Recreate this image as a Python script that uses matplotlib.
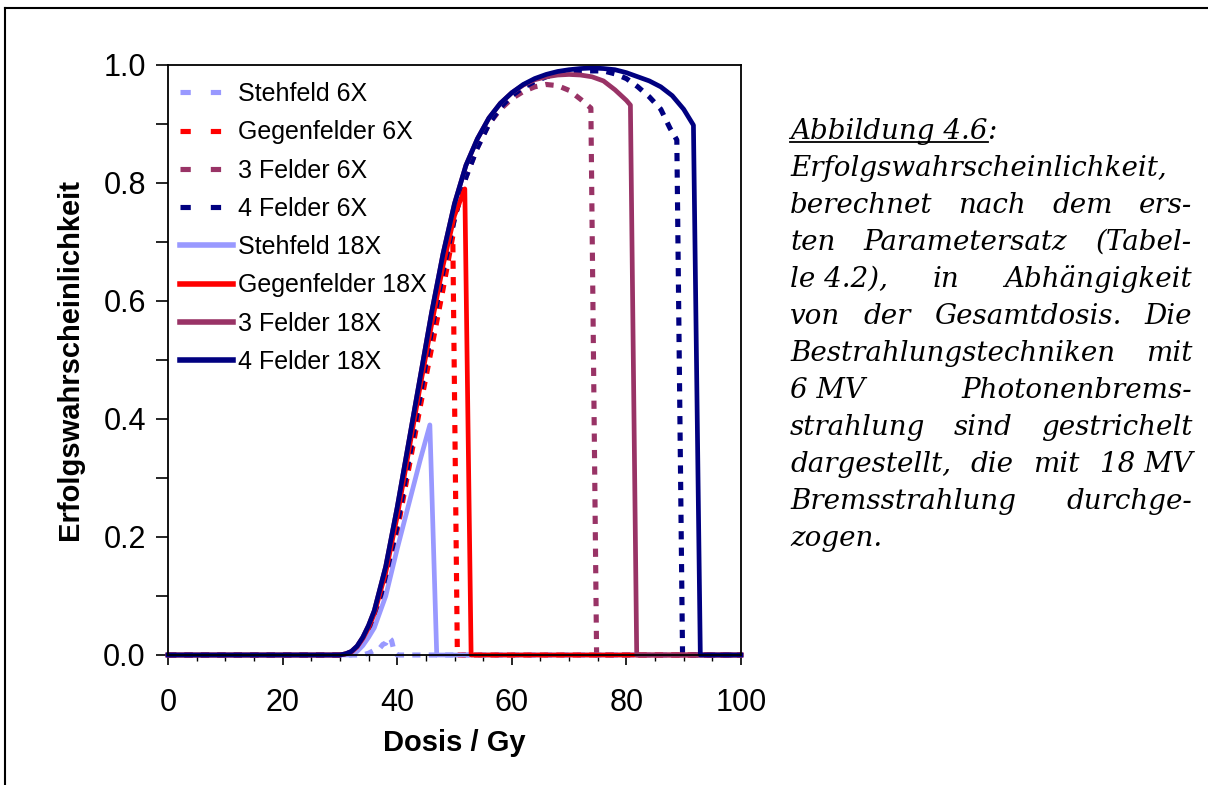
import matplotlib
matplotlib.use('Agg')
import matplotlib.pyplot as plt
from matplotlib.lines import Line2D
from matplotlib.ticker import MultipleLocator

# Erfolgswahrscheinlichkeit vs. Gesamtdosis
dosis_steh_6 = [0, 34, 35, 36, 37, 37.5, 38, 38.5, 39, 39.5, 40, 100]
p_steh_6 = [0, 0, 0.003, 0.008, 0.012, 0.018, 0.02, 0.03, 0.025, 0.005, 0, 0]

dosis_gegen_6 = [0, 30, 31, 32, 33, 34, 35, 36, 38, 40, 42, 44, 46, 48, 49.7, 50.5, 100]
p_gegen_6 = [0, 0, 0.001, 0.004, 0.01, 0.02, 0.035, 0.055, 0.12, 0.21, 0.315, 0.42,
             0.52, 0.62, 0.71, 0, 0]

dosis_3f_6 = [0, 30, 31, 32, 33, 34, 35, 36, 38, 40, 42, 44, 46, 48, 50, 52, 54, 56,
              58, 60, 62, 64, 66, 68, 70, 72, 73.8, 74.8, 100]
p_3f_6 = [0, 0, 0.001, 0.004, 0.011, 0.022, 0.038, 0.06, 0.13, 0.22, 0.33, 0.44, 0.55,
          0.65, 0.74, 0.81, 0.86, 0.9, 0.925, 0.943, 0.955, 0.963, 0.967, 0.965, 0.957,
          0.942, 0.927, 0, 0]

dosis_4f_6 = [0, 30, 31, 32, 33, 34, 35, 36, 38, 40, 42, 44, 46, 48, 50, 52, 54, 56,
              58, 60, 62, 64, 66, 68, 70, 72, 74, 76, 78, 80, 82, 84, 86, 87.6, 88.8,
              89.8, 100]
p_4f_6 = [0, 0, 0.001, 0.004, 0.011, 0.022, 0.038, 0.06, 0.13, 0.22, 0.33, 0.44, 0.55,
          0.65, 0.74, 0.81, 0.86, 0.9, 0.928, 0.948, 0.962, 0.972, 0.98, 0.985, 0.988,
          0.99, 0.99, 0.99, 0.985, 0.977, 0.963, 0.946, 0.925, 0.893, 0.873, 0, 0]

dosis_steh_18 = [0, 32, 33, 34, 35, 36, 38, 40, 42, 44, 45.7, 46.9, 100]
p_steh_18 = [0, 0, 0.006, 0.016, 0.03, 0.046, 0.1, 0.18, 0.255, 0.33, 0.39, 0, 0]

dosis_gegen_18 = [0, 30, 31, 32, 33, 34, 35, 36, 38, 40, 42, 44, 46, 48, 50, 51.8,
                  52.9, 100]
p_gegen_18 = [0, 0, 0.002, 0.005, 0.014, 0.028, 0.046, 0.07, 0.14, 0.235, 0.345, 0.455,
              0.56, 0.66, 0.745, 0.79, 0, 0]

dosis_3f_18 = [0, 30, 31, 32, 33, 34, 35, 36, 38, 40, 42, 44, 46, 48, 50, 52, 54, 56,
               58, 60, 62, 64, 66, 68, 70, 72, 74, 76, 78, 80, 80.7, 81.8, 100]
p_3f_18 = [0, 0, 0.002, 0.006, 0.015, 0.03, 0.05, 0.075, 0.15, 0.25, 0.36, 0.47, 0.58,
           0.68, 0.765, 0.83, 0.875, 0.91, 0.935, 0.953, 0.966, 0.975, 0.98, 0.983,
           0.984, 0.983, 0.98, 0.973, 0.958, 0.94, 0.932, 0, 0]

dosis_4f_18 = [0, 30, 31, 32, 33, 34, 35, 36, 38, 40, 42, 44, 46, 48, 50, 52, 54, 56,
               58, 60, 62, 64, 66, 68, 70, 72, 74, 76, 78, 80, 82, 84, 86, 88, 90,
               91.7, 92.9, 100]
p_4f_18 = [0, 0, 0.002, 0.006, 0.015, 0.03, 0.05, 0.075, 0.15, 0.25, 0.36, 0.47, 0.58,
           0.68, 0.765, 0.83, 0.875, 0.91, 0.935, 0.953, 0.967, 0.977, 0.984, 0.989,
           0.992, 0.994, 0.995, 0.994, 0.992, 0.987, 0.98, 0.973, 0.963, 0.948, 0.925,
           0.898, 0, 0]

labels = ['Stehfeld 6X', 'Gegenfelder 6X', '3 Felder 6X', '4 Felder 6X',
          'Stehfeld 18X', 'Gegenfelder 18X', '3 Felder 18X', '4 Felder 18X']
x_ticks = [0, 20, 40, 60, 80, 100]
y_ticks = [0.0, 0.2, 0.4, 0.6, 0.8, 1.0]

caption_lines = [
    ['Erfolgswahrscheinlichkeit,'],
    ['berechnet', 'nach', 'dem', 'ers-'],
    ['ten', 'Parametersatz', '(Tabel-'],
    ['le 4.2),', 'in', 'Abhängigkeit'],
    ['von', 'der', 'Gesamtdosis.', 'Die'],
    ['Bestrahlungstechniken', 'mit'],
    ['6 MV', 'Photonenbrems-'],
    ['strahlung', 'sind', 'gestrichelt'],
    ['dargestellt,', 'die', 'mit', '18 MV'],
    ['Bremsstrahlung', 'durchge-'],
    ['zogen.'],
]

colors = ['#9999FF', '#FF0000', '#993366', '#000080']

W, H = 1208, 785
plt.rcParams['font.family'] = ['Liberation Sans', 'DejaVu Sans']
fig = plt.figure(figsize=(W / 100, H / 100), dpi=100)
ax = fig.add_axes([168 / W, 1 - 655 / H, (741 - 168) / W, (655 - 65) / H])

series = [
    (dosis_steh_6, p_steh_6), (dosis_gegen_6, p_gegen_6),
    (dosis_3f_6, p_3f_6), (dosis_4f_6, p_4f_6),
    (dosis_steh_18, p_steh_18), (dosis_gegen_18, p_gegen_18),
    (dosis_3f_18, p_3f_18), (dosis_4f_18, p_4f_18),
]

handles = []
for i, (d, p) in enumerate(series):
    col = colors[i % 4]
    if i < 4:
        ax.plot(d, p, color=col, lw=3.7, dashes=(1.6, 1.6), clip_on=False)
        handles.append(Line2D([], [], color=col, lw=3.7, dashes=(2.0, 3.9)))
    else:
        ax.plot(d, p, color=col, lw=3.4, clip_on=False, solid_joinstyle='round')
        handles.append(Line2D([], [], color=col, lw=4.0))

ax.set_xlim(0, 100)
ax.set_ylim(0, 1)
ax.set_xticks(x_ticks)
ax.set_yticks(y_ticks)
ax.set_yticklabels([f'{v:.1f}' for v in y_ticks])
ax.xaxis.set_minor_locator(MultipleLocator(5))
ax.yaxis.set_minor_locator(MultipleLocator(0.1))
ax.tick_params(axis='x', which='major', direction='out', length=7, width=1.2,
               labelsize=22, pad=17)
ax.tick_params(axis='x', which='minor', direction='out', length=4.5, width=1)
ax.tick_params(axis='y', which='both', direction='out', length=9, width=1.2,
               labelsize=22, pad=7)
for s in ax.spines.values():
    s.set_linewidth(1.3)

ax.set_xlabel('Dosis / Gy', fontsize=21, fontweight='bold', labelpad=8)
ax.set_ylabel('Erfolgswahrscheinlichkeit', fontsize=21, fontweight='bold', labelpad=14)

ax.legend(handles, labels, loc='upper left', bbox_to_anchor=(0.021, 0.971),
          frameon=False, fontsize=18, handlelength=2.1, handletextpad=0.2,
          labelspacing=0.57, borderaxespad=0, borderpad=0)

# Rahmen links/oben
fig.add_artist(Line2D([5 / W, 5 / W], [0, 1 - 8 / H], color='black', lw=1.5))
fig.add_artist(Line2D([5 / W, 1], [1 - 8 / H, 1 - 8 / H], color='black', lw=1.5))

# Bildunterschrift, Blocksatz
fig.canvas.draw()
renderer = fig.canvas.get_renderer()
cap_font = dict(family='DejaVu Serif', style='italic', fontsize=20)
x0, x1 = 790, 1192
y_base = 139
step = 37


def put(x, y, s):
    return fig.text(x / W, 1 - y / H, s, ha='left', va='baseline', **cap_font)


t = put(x0, y_base, 'Abbildung 4.6')
wa = t.get_window_extent(renderer).width
put(x0 + wa, y_base, ':')
fig.add_artist(Line2D([x0 / W, (x0 + wa) / W], [1 - (y_base + 3) / H] * 2,
                      color='black', lw=1.3))

for k, words in enumerate(caption_lines):
    y = y_base + step * (k + 1)
    txts = [put(x0, y, w) for w in words]
    widths = [tt.get_window_extent(renderer).width for tt in txts]
    if len(words) > 1:
        gap = (x1 - x0 - sum(widths)) / (len(words) - 1)
    else:
        gap = 0
    x = x0
    for tt, w in zip(txts, widths):
        tt.set_x(x / W)
        x += w + gap

fig.savefig('out.png', dpi=100)
